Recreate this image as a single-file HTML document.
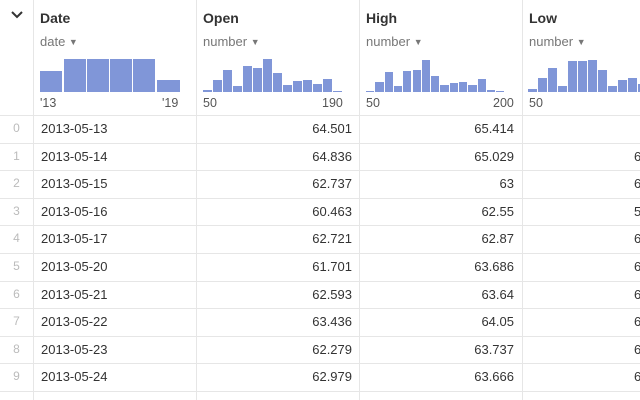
<!DOCTYPE html>
<html><head><style>
body{margin:0;width:640px;height:400px;overflow:hidden;background:#fff;font-family:"Liberation Sans",sans-serif;color:#333;position:relative}
.a{position:absolute}
.vl{position:absolute;top:0;width:1px;height:400px;background:#e6e6e6}
.hl{position:absolute;left:0;width:640px;height:1px;background:#e6e6e6}
.h{position:absolute;top:10px;font-weight:bold;font-size:14px;color:#333}
.t{position:absolute;top:34px;font-size:13px;color:#777}
.t span{font-size:9px;position:relative;top:-1px}
.ax{position:absolute;top:96px;font-size:12.5px;color:#555}
.b{position:absolute;background:#8096d8}
.r{position:absolute;font-size:13px;color:#333;line-height:16px}
.n{position:absolute;font-size:12px;color:#bbb;width:33px;text-align:center;left:0}
</style></head><body>
<div class="vl" style="left:33px"></div><div class="vl" style="left:196px"></div><div class="vl" style="left:359px"></div><div class="vl" style="left:522px"></div>
<div class="a" style="left:10px;top:8px;font-size:16px;color:#333">
<svg width="14" height="14"><path d="M2 4 L7 9 L12 4" stroke="#333" stroke-width="2" fill="none"/></svg></div>
<div class="h" style="left:40px">Date</div><div class="t" style="left:40px">date <span>▼</span></div>
<div class="h" style="left:203px">Open</div><div class="t" style="left:203px">number <span>▼</span></div>
<div class="h" style="left:366px">High</div><div class="t" style="left:366px">number <span>▼</span></div>
<div class="h" style="left:529px">Low</div><div class="t" style="left:529px">number <span>▼</span></div>
<div class="ax" style="left:40px">'13</div><div class="ax" style="left:162px">'19</div>
<div class="ax" style="left:203px">50</div><div class="ax" style="left:322px">190</div>
<div class="ax" style="left:366px">50</div><div class="ax" style="left:493px">200</div>
<div class="ax" style="left:529px">50</div>
<div id="bars"></div>
<div id="rows"></div>
<script>
var B=document.getElementById('bars'),s='';
function bars(x0,w,tops){tops.forEach(function(t,i){s+='<div class="b" style="left:'+(x0+i*w)+'px;top:'+t+'px;width:'+(w-1)+'px;height:'+(92-t)+'px"></div>'})}
s+='<div class="b" style="left:40px;top:71px;width:22px;height:21px"></div>';
[64,87,110,133].forEach(function(x){s+='<div class="b" style="left:'+x+'px;top:59px;width:22px;height:33px"></div>'});
s+='<div class="b" style="left:157px;top:80px;width:23px;height:12px"></div>';
bars(203,10,[90,80,70,86,66,68,59,73,85,81,80,84,79,91]);
bars(366,9.3,[91,82,72,86,71,70,60,76,85,83,82,85,79,90,91]);
bars(528,10,[89,78,68,86,61,61,60,70,86,80,78,84,76]);
B.innerHTML=s;
var d=[['2013-05-13','64.501','65.414',''],['2013-05-14','64.836','65.029','6'],['2013-05-15','62.737','63','6'],['2013-05-16','60.463','62.55','5'],['2013-05-17','62.721','62.87','6'],['2013-05-20','61.701','63.686','6'],['2013-05-21','62.593','63.64','6'],['2013-05-22','63.436','64.05','6'],['2013-05-23','62.279','63.737','6'],['2013-05-24','62.979','63.666','6']];
var r='';
for(var i=0;i<=10;i++){r+='<div class="hl" style="top:'+(115+i*27.6)+'px"></div>'}
d.forEach(function(x,i){var y=121+i*27.6;
r+='<div class="n" style="top:'+y+'px">'+i+'</div><div class="r" style="left:41px;top:'+y+'px">'+x[0]+'</div>'+
'<div class="r" style="right:288px;top:'+y+'px">'+x[1]+'</div><div class="r" style="right:126px;top:'+y+'px">'+x[2]+'</div><div class="r" style="left:634px;top:'+y+'px">'+x[3]+'</div>'});
document.getElementById('rows').innerHTML=r;
</script>
</body></html>
